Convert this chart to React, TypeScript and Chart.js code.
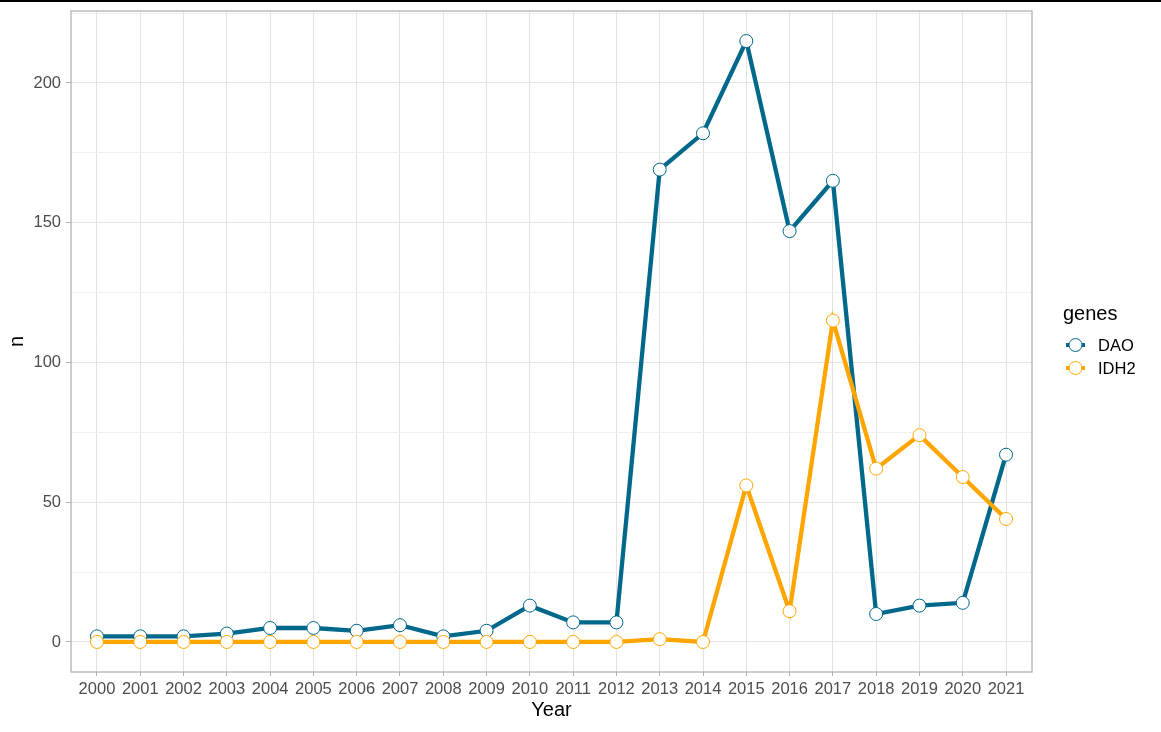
import React, { useEffect, useRef } from "react";
import { Chart, registerables } from "chart.js";

Chart.register(...registerables);

const years = [2000, 2001, 2002, 2003, 2004, 2005, 2006, 2007, 2008, 2009, 2010, 2011, 2012, 2013, 2014, 2015, 2016, 2017, 2018, 2019, 2020, 2021];
const daoValues = [2, 2, 2, 3, 5, 5, 4, 6, 2, 4, 13, 7, 7, 169, 182, 215, 147, 165, 10, 13, 14, 67];
const idh2Values = [0, 0, 0, 0, 0, 0, 0, 0, 0, 0, 0, 0, 0, 1, 0, 56, 11, 115, 62, 74, 59, 44];
const yTickValues = [0, 25, 50, 75, 100, 125, 150, 175, 200, 225];
const yLabelledTicks = [0, 50, 100, 150, 200];
const seriesNames = ["DAO", "IDH2"];
const seriesColors = ["#00688B", "#FFA500"];
const xTitle = "Year";
const yTitle = "n";
const legendTitle = "genes";

const FONT = "'Liberation Sans', Arial, sans-serif";

export default function App() {
  const canvasRef = useRef<HTMLCanvasElement | null>(null);

  useEffect(() => {
    const canvas = canvasRef.current;
    if (!canvas) return;

    const mk = (vals: number[]) => years.map((y, i) => ({ x: y, y: vals[i] }));
    const allVals = [...daoValues, ...idh2Values];
    const dMin = Math.min(...allVals);
    const dMax = Math.max(...allVals);
    const yPad = (dMax - dMin) * 0.05;
    const xPad = 0.6;

    const decor = {
      id: "decor",
      afterDraw(chart: any) {
        const ctx = chart.ctx as CanvasRenderingContext2D;
        const a = chart.chartArea;
        ctx.save();
        // top line
        ctx.fillStyle = "#000000";
        ctx.fillRect(0, 0, 1161, 2);
        // panel border
        ctx.strokeStyle = "#B3B3B3";
        ctx.lineWidth = 1.3;
        ctx.strokeRect(a.left, a.top, a.right - a.left, a.bottom - a.top);
        // axis titles
        ctx.fillStyle = "#000000";
        ctx.font = `20px ${FONT}`;
        ctx.textAlign = "center";
        ctx.textBaseline = "middle";
        ctx.fillText(xTitle, (a.left + a.right) / 2, 710);
        ctx.save();
        ctx.translate(17, (a.top + a.bottom) / 2);
        ctx.rotate(-Math.PI / 2);
        ctx.fillText(yTitle, 0, 0);
        ctx.restore();
        // legend
        ctx.textAlign = "left";
        ctx.font = `20px ${FONT}`;
        ctx.fillText(legendTitle, 1063, 314);
        ctx.font = `16.5px ${FONT}`;
        seriesNames.forEach((name, i) => {
          const cy = 345 + i * 23;
          const cx = 1075.5;
          ctx.strokeStyle = seriesColors[i];
          ctx.lineWidth = 4;
          ctx.beginPath();
          ctx.moveTo(1066, cy);
          ctx.lineTo(1085, cy);
          ctx.stroke();
          ctx.beginPath();
          ctx.arc(cx, cy, 6.5, 0, Math.PI * 2);
          ctx.fillStyle = "#FFFFFF";
          ctx.fill();
          ctx.lineWidth = 1;
          ctx.stroke();
          ctx.fillStyle = "#000000";
          ctx.fillText(name, 1098, cy + 1);
        });
        ctx.restore();
      },
    };

    const pointDs = (i: number, vals: number[], order: number) => ({
      label: seriesNames[i] + " points",
      data: mk(vals),
      showLine: false,
      pointRadius: 6.5,
      pointHoverRadius: 6.5,
      pointBackgroundColor: "#FFFFFF",
      pointBorderColor: seriesColors[i],
      pointBorderWidth: 1,
      order,
    });
    const lineDs = (i: number, vals: number[], order: number) => ({
      label: seriesNames[i],
      data: mk(vals),
      showLine: true,
      borderColor: seriesColors[i],
      borderWidth: 4.3,
      pointRadius: 0,
      tension: 0,
      fill: false,
      order,
    });

    const chart = new Chart(canvas, {
      type: "scatter",
      data: {
        datasets: [
          pointDs(1, idh2Values, 0),
          pointDs(0, daoValues, 1),
          lineDs(1, idh2Values, 2),
          lineDs(0, daoValues, 3),
        ] as any,
      },
      options: {
        animation: false,
        responsive: false,
        devicePixelRatio: 1,
        layout: { padding: { left: 0, top: 11, right: 129, bottom: 0 } },
        plugins: { legend: { display: false }, tooltip: { enabled: false } },
        scales: {
          x: {
            type: "linear",
            min: years[0] - xPad,
            max: years[years.length - 1] + xPad,
            afterBuildTicks: (s: any) => {
              s.ticks = years.map((v) => ({ value: v }));
            },
            afterFit: (s: any) => {
              s.height = 60;
              s.paddingLeft = 0;
              s.paddingRight = 0;
            },
            border: { display: false },
            grid: {
              color: "#E3E3E3",
              lineWidth: 1,
              tickColor: "#B3B3B3",
              tickLength: 4,
            },
            ticks: {
              autoSkip: false,
              maxRotation: 0,
              padding: 4,
              color: "#4D4D4D",
              font: { family: FONT, size: 16.5 },
              callback: (v: any) => String(v),
            },
          },
          y: {
            type: "linear",
            min: dMin - yPad,
            max: dMax + yPad,
            afterBuildTicks: (s: any) => {
              s.ticks = yTickValues.map((v) => ({ value: v }));
            },
            afterFit: (s: any) => {
              s.width = 71;
              s.paddingTop = 0;
              s.paddingBottom = 0;
            },
            border: { display: false },
            grid: {
              color: (c: any) => (c.tick && yLabelledTicks.includes(c.tick.value) ? "#E3E3E3" : "#F0F0F0"),
              lineWidth: 1,
              tickColor: (c: any) => (c.tick && yLabelledTicks.includes(c.tick.value) ? "#B3B3B3" : "rgba(0,0,0,0)"),
              tickLength: 5,
            },
            ticks: {
              padding: 5,
              color: "#4D4D4D",
              font: { family: FONT, size: 16.5 },
              callback: (v: any) => (yLabelledTicks.includes(v) ? String(v) : ""),
            },
          },
        },
      },
      plugins: [decor],
    });

    return () => chart.destroy();
  }, []);

  return (
    <div style={{ position: "fixed", left: 0, top: 0, width: 1161, height: 732, background: "#FFFFFF" }}>
      <canvas ref={canvasRef} width={1161} height={732} style={{ width: 1161, height: 732, display: "block" }} />
    </div>
  );
}
